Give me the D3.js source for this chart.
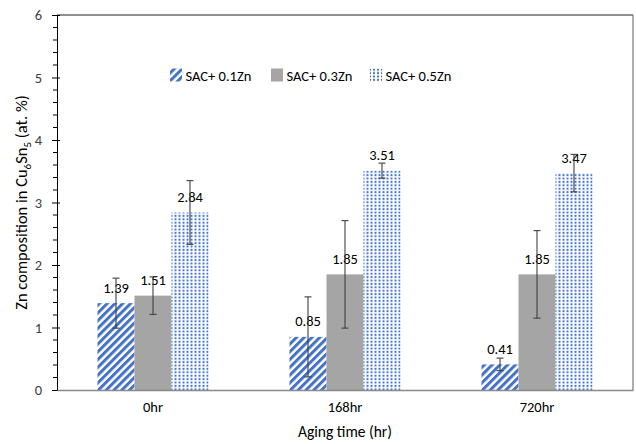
<!DOCTYPE html>
<html><head><meta charset="utf-8">
<script src="https://cdn.jsdelivr.net/npm/d3@7"></script>
<style>
body{margin:0;background:#fff;}
svg{display:block;font-family:Carlito,Calibri,Lato,"Liberation Sans",sans-serif;}
</style></head><body>
<script>
const categories = ["0hr", "168hr", "720hr"];
const seriesNames = ["SAC+ 0.1Zn", "SAC+ 0.3Zn", "SAC+ 0.5Zn"];
const zn01 = [1.39, 0.85, 0.41];
const zn03 = [1.51, 1.85, 1.85];
const zn05 = [2.84, 3.51, 3.47];
const err01 = [0.40, 0.64, 0.10];
const err03 = [0.30, 0.86, 0.70];
const err05 = [0.51, 0.12, 0.30];
const yTicks = [0, 1, 2, 3, 4, 5, 6];

const values = [zn01, zn03, zn05];
const errors = [err01, err03, err05];
const FONT = "Carlito,Calibri,Lato,'Liberation Sans',sans-serif";

const W = 636, H = 444;
const m = {left: 57, right: 3, top: 15, bottom: 54};
const svg = d3.select("body").append("svg").attr("width", W).attr("height", H);

const defs = svg.append("defs");
const hatch = defs.append("pattern").attr("id", "hatch").attr("patternUnits", "userSpaceOnUse")
  .attr("width", 5.5).attr("height", 5.5).attr("patternTransform", "rotate(45)");
hatch.append("rect").attr("width", 5.5).attr("height", 5.5).attr("fill", "#fff");
hatch.append("rect").attr("width", 3).attr("height", 5.5).attr("fill", "#4472C4");
const dots = defs.append("pattern").attr("id", "dots").attr("patternUnits", "userSpaceOnUse")
  .attr("width", 4).attr("height", 3.4);
dots.append("rect").attr("width", 4).attr("height", 3.4).attr("fill", "#fff");
dots.append("rect").attr("x", 1).attr("y", 0.7).attr("width", 2).attr("height", 2).attr("fill", "#4a78c8");
const fills = ["url(#hatch)", "#A5A5A5", "url(#dots)"];

const x0 = d3.scaleBand().domain(categories).range([m.left, W - m.right]);
const barW = x0.bandwidth() / (3 + 2.19);
const x1 = d3.scaleBand().domain(d3.range(3)).range([0, barW * 3]);
const y = d3.scaleLinear().domain([0, 6]).range([H - m.bottom, m.top]);

// plot border (top and right)
svg.append("line").attr("x1", m.left).attr("x2", W - m.right).attr("y1", y(6)).attr("y2", y(6))
  .attr("stroke", "#222").attr("stroke-width", 1);
svg.append("line").attr("x1", W - m.right).attr("x2", W - m.right).attr("y1", y(6)).attr("y2", y(0))
  .attr("stroke", "#777").attr("stroke-width", 1.2);

// bars
const groups = svg.append("g").selectAll("g").data(categories).join("g")
  .attr("transform", d => `translate(${x0(d) + x0.bandwidth()/2 - barW*1.5},0)`);
groups.each(function(cat, ci) {
  const g = d3.select(this);
  for (let s = 0; s < 3; s++) {
    const v = values[s][ci], e = errors[s][ci];
    const bx = x1(s), cx = bx + barW / 2;
    g.append("rect").attr("x", bx).attr("y", y(v)).attr("width", barW).attr("height", y(0) - y(v))
      .attr("fill", fills[s]);
    g.append("text").attr("x", cx).attr("y", y(v) - 10.5).attr("text-anchor", "middle")
      .attr("font-size", 14.5).attr("fill", "#000").text(v.toFixed(2));
    const eg = g.append("g").attr("stroke", "#3f3f3f").attr("stroke-width", 1.1);
    eg.append("line").attr("x1", cx).attr("x2", cx).attr("y1", y(v + e)).attr("y2", y(v - e));
    eg.append("line").attr("x1", cx - 3.5).attr("x2", cx + 3.5).attr("y1", y(v + e)).attr("y2", y(v + e));
    eg.append("line").attr("x1", cx - 3.5).attr("x2", cx + 3.5).attr("y1", y(v - e)).attr("y2", y(v - e));
  }
});

// y axis
const yAxis = svg.append("g").attr("transform", `translate(${m.left},0)`)
  .call(d3.axisLeft(y).tickValues(yTicks).tickFormat(d3.format("d")).tickSize(5).tickPadding(10));
yAxis.select(".domain").attr("stroke", "#000");
yAxis.selectAll(".tick line").attr("stroke", "#000").attr("x2", 3).attr("x1", -5);
yAxis.selectAll(".tick text").attr("font-size", 14.5).attr("fill", "#404040").style("font-family", FONT);
const minor = d3.range(0, 6.001, 0.2).filter(v => Math.abs(v - Math.round(v)) > 1e-6);
svg.append("g").selectAll("line").data(minor).join("line")
  .attr("x1", m.left - 4).attr("x2", m.left).attr("y1", d => y(d)).attr("y2", d => y(d))
  .attr("stroke", "#000");

// x axis
const xAxis = svg.append("g").attr("transform", `translate(0,${y(0)})`)
  .call(d3.axisBottom(x0).tickSize(0).tickPadding(12));
xAxis.select(".domain").attr("stroke", "#898989").attr("stroke-width", 1.6);
xAxis.selectAll(".tick text").attr("font-size", 14.5).attr("fill", "#000").style("font-family", FONT);

// axis titles
svg.append("text").attr("x", (m.left + W - m.right) / 2).attr("y", 437).attr("text-anchor", "middle")
  .attr("font-size", 15.5).attr("fill", "#000").text("Aging time (hr)");
const yt = svg.append("text").attr("transform", `translate(27,${(y(0)+y(6))/2}) rotate(-90)`)
  .attr("text-anchor", "middle").attr("font-size", 16.5).attr("fill", "#000");
yt.append("tspan").text("Zn composition in Cu");
yt.append("tspan").attr("font-size", 11).attr("dy", 3.5).text("6");
yt.append("tspan").attr("dy", -3.5).text("Sn");
yt.append("tspan").attr("font-size", 11).attr("dy", 3.5).text("5");
yt.append("tspan").attr("dy", -3.5).text(" (at. %)");

// legend
const legX = [170, 271, 370];
const leg = svg.append("g");
seriesNames.forEach((n, i) => {
  leg.append("rect").attr("x", legX[i]).attr("y", 68.5).attr("width", 12).attr("height", 13).attr("fill", fills[i]);
  leg.append("text").attr("x", legX[i] + 15.5).attr("y", 80.5).attr("font-size", 14.5).attr("fill", "#000").text(n);
});
</script>
</body></html>
